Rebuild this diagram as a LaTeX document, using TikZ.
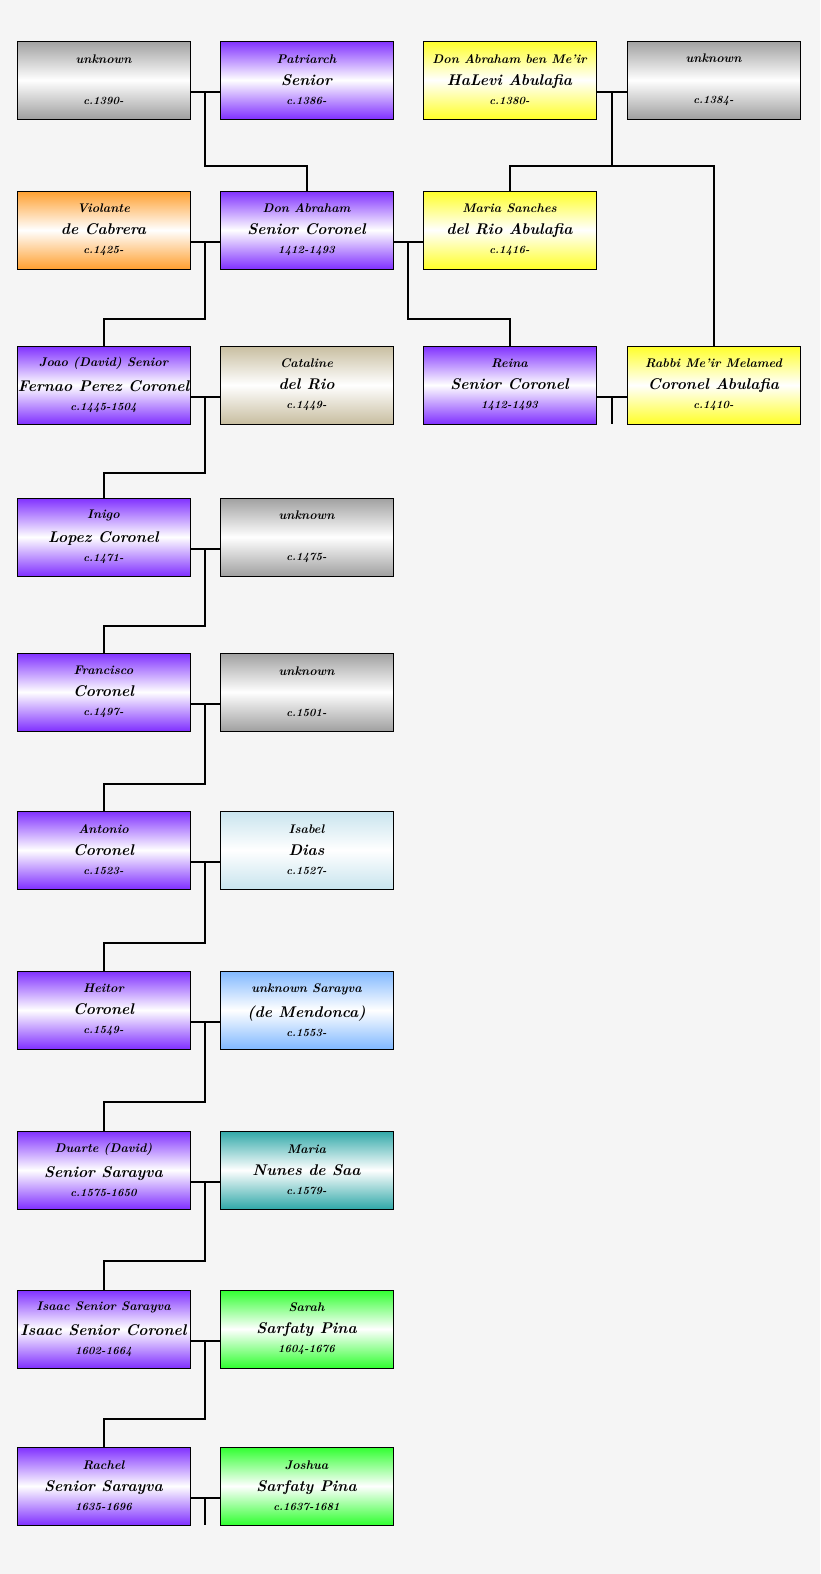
\documentclass[tikz,border=0pt]{standalone}
\usepackage{tikz}

\definecolor{bgcol}{RGB}{245,245,245}
\definecolor{c_purple}{RGB}{128,48,255}
\definecolor{c_gray}{RGB}{160,160,160}
\definecolor{c_yellow}{RGB}{255,255,40}
\definecolor{c_orange}{RGB}{255,160,48}
\definecolor{c_tan}{RGB}{200,190,160}
\definecolor{c_lblue}{RGB}{200,228,238}
\definecolor{c_blue}{RGB}{128,184,255}
\definecolor{c_teal}{RGB}{48,168,168}
\definecolor{c_green}{RGB}{48,255,48}

\tikzset{
  person/.style = {draw=black, line width=0.8pt, minimum width=173pt, minimum height=78pt,
                   inner sep=0pt, align=center, top color=#1, bottom color=#1, middle color=white,
                   font=\bfseries\itshape},
  link/.style   = {draw=black, line width=2pt}
}

\begin{document}
\begin{tikzpicture}[x=1pt, y=-1pt]

  % BACKGROUND
  \fill[bgcol] (0,0) rectangle (820,1574);
  \useasboundingbox (0,0) rectangle (820,1574);

  % PERSONS
  \foreach \n/\x/\y/\c/\a/\b/\d in {
      p1/17/41/c_gray/unknown//c.1390-,
      p2/220/41/c_purple/Patriarch/Senior/c.1386-,
      p3/423/41/c_yellow/Don Abraham ben Me'ir/HaLevi Abulafia/c.1380-,
      p4/627/41/c_gray/unknown//c.1384-,
      p5/17/191/c_orange/Violante/de Cabrera/c.1425-,
      p6/220/191/c_purple/Don Abraham/Senior Coronel/1412-1493,
      p7/423/191/c_yellow/Maria Sanches/del Rio Abulafia/c.1416-,
      p8/17/346/c_purple/Joao (David) Senior/Fernao Perez Coronel/c.1445-1504,
      p9/220/346/c_tan/Cataline/del Rio/c.1449-,
      p10/423/346/c_purple/Reina/Senior Coronel/1412-1493,
      p11/627/346/c_yellow/Rabbi Me'ir Melamed/Coronel Abulafia/c.1410-,
      p12/17/498/c_purple/Inigo/Lopez Coronel/c.1471-,
      p13/220/498/c_gray/unknown//c.1475-,
      p14/17/653/c_purple/Francisco/Coronel/c.1497-,
      p15/220/653/c_gray/unknown//c.1501-,
      p16/17/811/c_purple/Antonio/Coronel/c.1523-,
      p17/220/811/c_lblue/Isabel/Dias/c.1527-,
      p18/17/971/c_purple/Heitor/Coronel/c.1549-,
      p19/220/971/c_blue/unknown Sarayva/(de Mendonca)/c.1553-,
      p20/17/1131/c_purple/Duarte (David)/Senior Sarayva/c.1575-1650,
      p21/220/1131/c_teal/Maria/Nunes de Saa/c.1579-,
      p22/17/1290/c_purple/Isaac Senior Sarayva/Isaac Senior Coronel/1602-1664,
      p23/220/1290/c_green/Sarah/Sarfaty Pina/1604-1676,
      p24/17/1447/c_purple/Rachel/Senior Sarayva/1635-1696,
      p25/220/1447/c_green/Joshua/Sarfaty Pina/c.1637-1681}
    \node[person=\c] (\n) at (\x+86.5,\y+39)
      {\fontsize{12.5}{13}\selectfont\a\\[10pt]\fontsize{15.5}{16}\selectfont\b\\[7pt]\fontsize{11}{12}\selectfont\d};

  % COUPLES
  \foreach \h/\w/\k in {p1/p2/k1, p3/p4/k2, p5/p6/k3, p6/p7/k4, p8/p9/k5, p10/p11/k6,
                        p12/p13/k7, p14/p15/k8, p16/p17/k9, p18/p19/k10, p20/p21/k11,
                        p22/p23/k12, p24/p25/k13}
  {
    \draw[link] ([yshift=-12pt]\h.east) -- ([yshift=-12pt]\w.west)
      coordinate[midway] (\k);
  }

  % CHILDREN
  \foreach \k/\ch/\dy in {k1/p6/74, k2/p7/74, k2/p11/74, k3/p8/77, k4/p10/77,
                          k5/p12/76, k7/p14/77, k8/p16/80, k9/p18/81, k10/p20/80,
                          k11/p22/79, k12/p24/78}
    \draw[link] (\k) -- ++(0,\dy) -| (\ch.north);

  % OPEN ENDS
  \draw[link] (k6) -- (k6 |- p11.south);
  \draw[link] (k13) -- (k13 |- p25.south);

\end{tikzpicture}
\end{document}
